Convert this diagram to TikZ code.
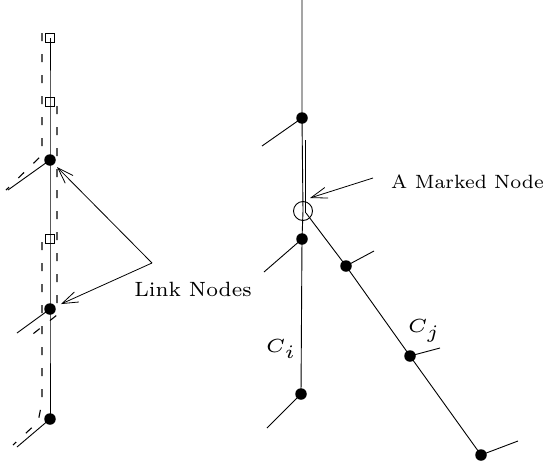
\documentclass[tikz,border=0pt]{standalone}
\usetikzlibrary{arrows.meta}
\begin{document}
\begin{tikzpicture}[x=1pt,y=-1pt,
  line width=0.9pt,
  dotnode/.style={circle,fill=black,inner sep=0pt,minimum size=11.5pt},
  sqnode/.style={rectangle,draw,line width=0.8pt,fill=none,inner sep=0pt,minimum size=8.5pt},
  dashline/.style={dash pattern=on 8pt off 13pt,line width=1.1pt},
  arr/.style={-{Straight Barb[length=16pt,width=11pt,line width=0.8pt]},line width=0.8pt},
  lbl/.style={inner sep=0pt,scale=2.95,transform shape},
  mlbl/.style={inner sep=0pt,scale=3.8,transform shape}]
\useasboundingbox (0,0) rectangle (549,466);
% ---------- left chain ----------
\node[sqnode] (s1) at (50,38) {};
\node[sqnode] (s2) at (50,102) {};
\node[dotnode] (d1) at (50,160) {};
\node[sqnode] (s3) at (50,239) {};
\node[dotnode] (d2) at (50,309) {};
\node[dotnode] (d3) at (50,419) {};
\draw[line width=1pt] (s1.center) -- (s2.center) -- (d1.center) -- (s3.center) -- (d2.center) -- (d3.center);
\coordinate (b1) at (8,190);
\coordinate (b2) at (17,333);
\coordinate (b3) at (17,447);
\draw (d1.center) -- (b1);
\draw (d2.center) -- (b2);
\draw (d3.center) -- (b3);
% dashed tour
\draw[dashline] (42,33) -- (42,155) -- (6,190);
\draw[dashline] (57,106) -- (57,315) -- (24,341);
\draw[dashline] (42,242) -- (42,402) -- (38,422) -- (13,445);
% link nodes label and arrows
\node[lbl,anchor=base west] (ln) at (133,296) {\fontsize{7}{8}\selectfont Link Nodes};
\coordinate (lp) at (152,263);
\draw[arr,shorten >=10pt] (lp) -- (d1.center);
\draw[arr,shorten >=12pt] (lp) -- (d2.center);
% ---------- right chain ----------
\coordinate (top) at (302,0);
\node[dotnode] (r1) at (302,118) {};
\node[circle,draw,line width=0.9pt,inner sep=0pt,minimum size=19pt] (mk) at (303,211) {};
\node[dotnode] (r2) at (302,239) {};
\node[dotnode] (r3) at (301,394) {};
\draw (top) -- (r1.center) -- (mk.center) -- (r2.center) -- (r3.center);
\draw (305,140) -- (305,213);
\node[dotnode] (q1) at (346,266) {};
\node[dotnode] (q2) at (410,356) {};
\node[dotnode] (q3) at (481,455) {};
\draw (306,213) -- (q1.center) -- (q2.center) -- (q3.center);
\coordinate (rb1) at (262,146);
\coordinate (rb2) at (264,272);
\coordinate (rb3) at (267,428);
\coordinate (qb1) at (374,251);
\coordinate (qb2) at (440,348);
\coordinate (qb3) at (518,441);
\draw (r1.center) -- (rb1);
\draw (r2.center) -- (rb2);
\draw (r3.center) -- (rb3);
\draw (q1.center) -- (qb1);
\draw (q2.center) -- (qb2);
\draw (q3.center) -- (qb3);
\node[mlbl,anchor=base west] (ci) at (264,352) {\fontsize{5}{6}\selectfont $C_i$};
\node[mlbl,anchor=base west] (cj) at (406,332) {\fontsize{5}{6}\selectfont $C_j$};
\node[lbl,scale=0.93,anchor=base west] (mt) at (390,188) {\fontsize{7}{8}\selectfont A Marked Node};
\coordinate (mp) at (373,178);
\draw[arr] (mp) -- (310,198);
\end{tikzpicture}
\end{document}
